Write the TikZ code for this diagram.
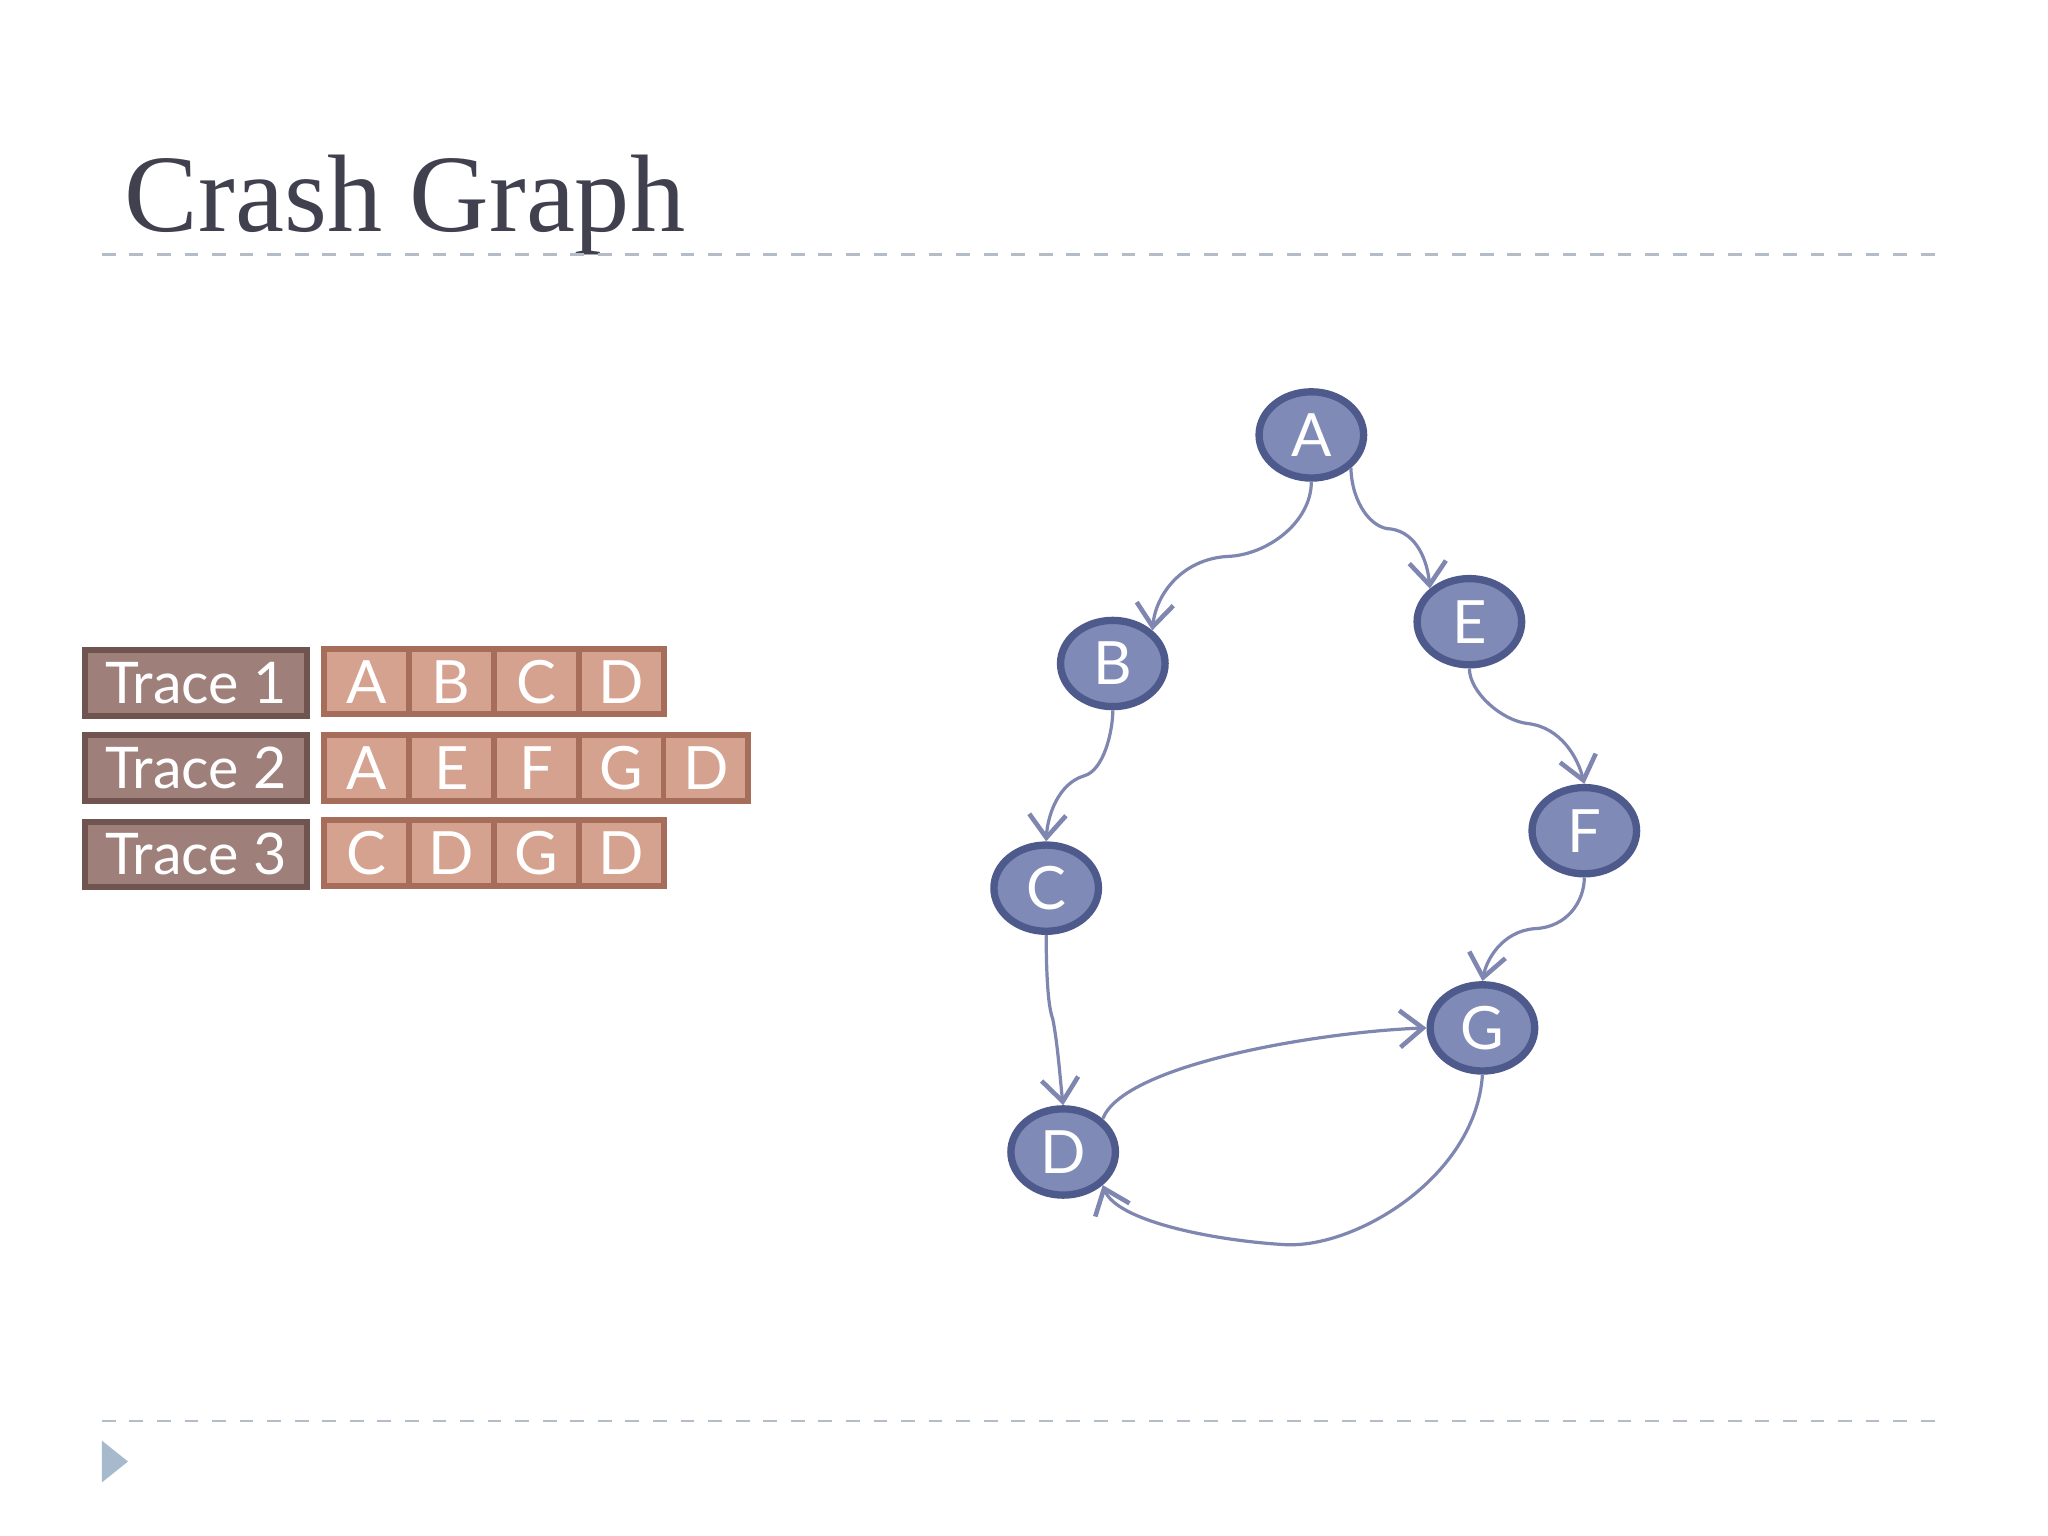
\documentclass[tikz,border=0pt]{standalone}
\usepackage{fontspec}
\setmainfont{Liberation Serif}
\newfontfamily\gsans{Lato}
\usetikzlibrary{arrows.meta,shapes.geometric}
\definecolor{nodefill}{HTML}{7F8BB6}
\definecolor{nodeedge}{HTML}{4E5A8C}
\definecolor{edgec}{HTML}{7F87B0}
\definecolor{labfill}{HTML}{9F7F7A}
\definecolor{labedge}{HTML}{705450}
\definecolor{cellfill}{HTML}{D4A28E}
\definecolor{celledge}{HTML}{A66E5A}
\definecolor{titlec}{HTML}{40404E}
\definecolor{rulec}{HTML}{B4BCC8}
\definecolor{tric}{HTML}{A7B9CC}
\tikzset{
 gnode/.style={ellipse,draw=nodeedge,line width=1.6pt,fill=nodefill,minimum width=0.8cm,minimum height=0.66cm,inner sep=0pt,text=white,font=\gsans\fontsize{13}{13}\selectfont},
 gedge/.style={draw=edgec,line width=0.7pt,-{Straight Barb[length=5pt,width=8pt,line width=1pt]}},
 lab/.style={draw=labedge,line width=1.3pt,fill=labfill,minimum width=1.7cm,minimum height=0.5cm,inner sep=0pt,text=white,font=\gsans\fontsize{12.5}{12.5}\selectfont},
 cell/.style={draw=celledge,line width=1.3pt,fill=cellfill,minimum width=0.65cm,minimum height=0.5cm,inner sep=0pt,text=white,font=\gsans\fontsize{13}{13}\selectfont},
}
\begin{document}
\begin{tikzpicture}[x=0.01cm,y=-0.01cm]
\useasboundingbox (0,0) rectangle (1568,1176);
\node[anchor=base west,text=titlec,font=\fontsize{24}{24}\selectfont,inner sep=0pt] (title) at (95,177) {Crash Graph};
\draw[rulec,dashed,line width=0.6pt] (78,195) -- (1490,195);
\draw[rulec,dashed,line width=0.6pt] (78,1088) -- (1490,1088);
\fill[tric] (78,1103) -- (98,1119) -- (78,1135) -- cycle;
% traces
\node[lab] (t1) at (150,523) {Trace 1};
\node[lab] (t2) at (150,588) {Trace 2};
\node[lab] (t3) at (150,654) {Trace 3};
\foreach \l [count=\i] in {A,B,C,D} \node[cell] (a\i) at (248+65*\i-32.5,522) {\l};
\foreach \l [count=\i] in {A,E,F,G,D} \node[cell] (b\i) at (248+65*\i-32.5,588) {\l};
\foreach \l [count=\i] in {C,D,G,D} \node[cell] (c\i) at (248+65*\i-32.5,653) {\l};
% graph
\node[gnode] (A) at (1004,333) {A};
\node[gnode] (B) at (852,508) {B};
\node[gnode] (C) at (801,680) {C};
\node[gnode] (D) at (814,882) {D};
\node[gnode] (E) at (1125,476) {E};
\node[gnode] (F) at (1213,636) {F};
\node[gnode] (G) at (1135,787) {G};
\draw[gedge] (A.south) .. controls (1004,400) and (970,425) .. (940,426) .. controls (905,428) and (885,455) .. (B.north east);
\draw[gedge] (A.south east) .. controls (1035,385) and (1050,405) .. (1065,405) .. controls (1085,408) and (1093,430) .. (E.north west);
\draw[gedge] (B.south) .. controls (852,560) and (845,590) .. (830,594) .. controls (810,600) and (802,625) .. (C.north);
\draw[gedge] (E.south) .. controls (1125,530) and (1150,552) .. (1170,554) .. controls (1195,557) and (1208,580) .. (F.north);
\draw[gedge] (F.south) .. controls (1213,690) and (1200,710) .. (1175,711) .. controls (1150,713) and (1138,735) .. (G.north);
\draw[gedge] (C.south) .. controls (801,740) and (802,770) .. (806,780) .. controls (810,800) and (812,830) .. (D.north);
\draw[gedge] (D.north east) .. controls (860,815) and (1010,790) .. (G.west);
\draw[gedge] (G.south) .. controls (1130,900) and (1040,955) .. (985,953) .. controls (930,950) and (855,935) .. (D.south east);
\end{tikzpicture}
\end{document}
